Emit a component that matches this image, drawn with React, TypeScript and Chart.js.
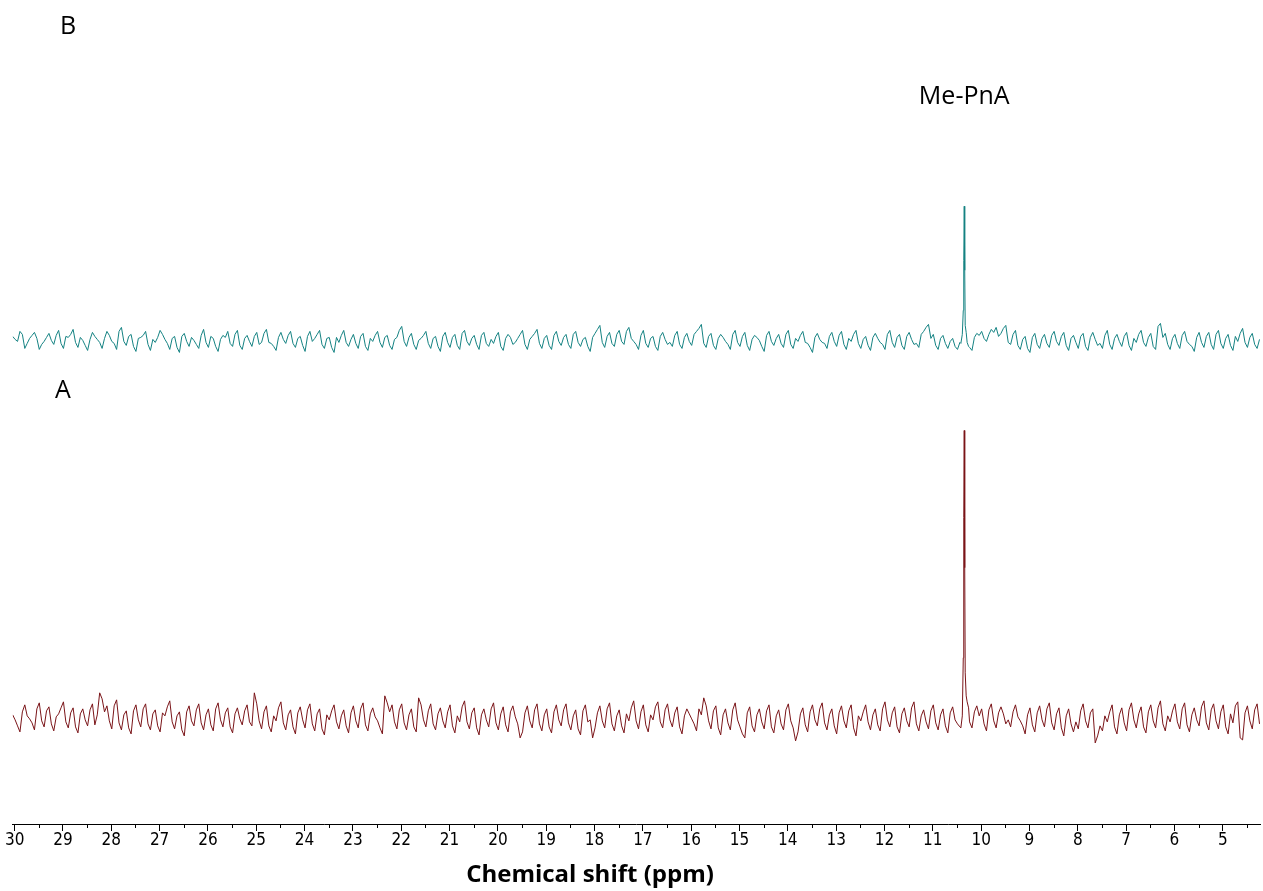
import React, { useEffect, useRef } from "react";
import { Chart, registerables } from "chart.js";

Chart.register(...registerables);

// Sampling grid of the spectrum (ppm), high to low
const xStart = 30.04;
const xStep = 0.1;
const xMidStart = 29.99; // interleaved samples half a step further
const xMin = 4.23;
const xMax = 30.04;

// Trace B (teal) noise intensities on the grid
const tealNoise = [
  4, -1, 6, -3, 5, 2, -4, 3, 0, 5,
  -3, 4, 6, -2, 3, -5, 1, 4, -2, 2,
  5, -3, 9, -1, 4, -6, 2, 5, -4, 1,
  3, 6, -3, 2, -7, 4, -1, 3, -4, 5,
  -2, 4, -6, 1, 3, -3, 6, -5, 2, -1,
  4, -4, 7, -2, -6, 3, 1, 5, -3, 2,
  -5, 4, -1, 6, -4, 2, -7, 3, 5, -2,
  1, -3, 4, -6, 2, 5, -2, 3, -5, 1,
  10, -1, 3, -4, 0, 5, -3, 2, -6, 4,
  -2, 3, -5, 7, -1, 2, -4, 5, -3, 1,
  4, -6, 2, 3, -2, 6, -4, 1, 7, -3,
  2, -5, 5, -1, 3, -4, 6, -2, 1, -6,
  3, 11, -2, 4, -3, 6, -1, 9, 2, -4,
  5, -3, 2, -6, 4, 1, -2, 5, -4, 3,
  -1, 6, 12, -3, 4, -5, 2, 3, -4, 6,
  -2, 4, -5, 1, 3, -6, 5, -1, 2, -3,
  6, -4, 2, 5, -2, -7, 3, 1, -3, 4,
  -1, 5, -4, 2, 6, -3, 1, -5, 3, 2,
  -4, 6, -2, 3, -5, 4, 1, -3, 6, 13,
  2, -5, 2, -3, -1, -6, -2, 0, -7, 3,
  5, 2, 6, 8, 4, 12, -2, 6, -5, 1,
  -8, 3, -4, 2, -3, 5, -1, 4, -5, 2,
  -2, 4, -6, 3, 1, -3, 5, -4, 2, -1,
  4, -5, 2, 6, -2, 3, -6, 14, 3, -4,
  2, -3, 5, -1, -6, 3, -2, 4, -4, 6,
  -3, 2, -5, 4, 7, -2, 3, -4, 1,
];

// Trace B (teal) noise at the interleaved half-step samples
const tealNoiseMid = [
  1, 9, -8, 2, 8, -9, -1, 7, -4, 10,
  -8, 3, 11, -7, 0, -10, 8, 1, -8, 9,
  -1, -9, 13, -5, 6, -11, 3, 9, -10, -2,
  10, 1, -9, 4, -12, 7, -6, 0, -8, 11,
  -7, 2, -11, 5, 9, -6, 10, -9, 5, -6,
  8, -2, 11, -3, -10, 8, -3, 9, -7, 4,
  -11, 9, 2, 10, -8, 3, -12, -2, 10, -6,
  6, -8, 7, -10, -1, 9, -7, 5, -9, 3,
  14, -6, 7, -9, 2, 9, -8, 4, -11, 8,
  -7, 6, -9, 10, -5, 5, -9, 8, -6, -3,
  8, -10, 6, -4, 2, 10, -9, 4, 11, -8,
  5, -9, 9, -5, 6, -8, 9, -6, 3, -11,
  7, 15, -7, 8, -6, 10, -4, 13, -1, -9,
  10, -7, 4, -10, 8, -4, -6, 9, -8, 7,
  -5, 9, 16, -7, 7, -9, 6, -1, -9, 10,
  -6, 8, -10, 5, 0, -11, 9, -5, 6, -7,
  10, -8, -1, 9, -3, -12, 7, -2, -8, 8,
  -6, 9, -9, -1, 10, -8, 4, -10, 7, -2,
  -9, 10, -7, 6, -9, 8, -4, -7, 9, 16,
  6, -9, 5, -8, 2, -9, 0, 0, -10, 7,
  9, -1, 11, 13, 7, 15, -4, 10, -9, 4,
  -12, 7, -8, 6, -7, 9, -5, 8, -10, 5,
  -8, 7, -10, 8, -5, -8, 10, -9, 6, -6,
  8, -10, -2, 10, -6, 7, -9, 17, 7, -9,
  6, -8, 9, -4, -11, 8, -7, 8, -9, 10,
  -8, 6, -10, -1, 12, -7, 7, -8,
];

// Trace A (dark red) noise intensities on the grid
const redNoise = [
  3, -8, 6, 2, -5, 9, -3, 7, -6, 1,
  10, -4, 5, -9, 4, -2, 8, -7, 25, 6,
  -3, 12, -5, 3, -10, 7, -2, 9, -6, 4,
  -8, 5, 11, -4, 2, -12, 6, -3, 8, -5,
  3, -7, 9, -2, 5, -9, 4, -1, 7, -4,
  25, -3, 6, -8, 2, 10, -5, 3, -9, 5,
  -2, 8, -6, 4, -11, 3, 7, -4, 2, -8,
  5, -3, 9, -7, 4, 1, -10, 22, 6, -4,
  8, -5, 3, -9, 20, -2, 7, -6, 4, -3,
  6, -8, 2, 11, -4, 5, -10, 3, -2, 9,
  -5, 4, -7, 6, 1, -20, 5, -3, 8, -6,
  3, -9, 6, -2, 8, -5, 2, -11, 7, -4,
  -20, 5, -3, 9, -6, 2, -8, 4, 10, -3,
  6, -7, 3, 11, -4, 8, -2, 5, -9, 2,
  4, -6, 9, 20, -3, 7, -10, 3, -5, 8,
  -2, -16, 5, -8, 3, -4, 7, -9, 2, -6,
  8, -3, -23, 4, -7, 6, -2, 9, -5, 3,
  -8, 5, -3, 7, -10, 2, 6, -4, 3, -7,
  9, -2, 5, -9, 4, -3, 10, -6, 2, -4,
  7, -5, 3, -8, 5, -2, -9, 0, -4, 6,
  2, -6, 8, -3, 5, 4, -2, 6, 1, -8,
  3, -7, 5, -2, 9, -5, 4, -10, 2, -6,
  -4, 7, -3, 5, -25, -8, 2, 6, -9, 3,
  -5, 8, -2, 4, -9, 6, -3, 10, -6, 2,
  7, -4, 9, -7, 3, -2, 11, -5, 8, -3,
  6, -9, 4, 12, -20, 5, -3, 8, -6,
];

// Trace A (dark red) noise at the interleaved half-step samples
const redNoiseMid = [
  -2, -14, 13, -1, -12, 15, -9, 11, -13, 4,
  16, -10, 10, -15, 9, -8, 14, 3, 19, 12,
  -11, 18, -12, 7, -16, 13, -9, 14, -12, 8,
  -14, 2, 17, -11, 6, -18, 12, -8, 14, -12,
  9, -13, 15, -9, 10, -15, 10, -7, 13, -8,
  14, -11, 12, -14, -3, 16, -12, 8, -16, 11,
  -10, 14, -13, 9, -17, -2, 13, -11, 8, -15,
  12, -10, 15, -13, 10, -3, -16, 15, 13, -11,
  14, -12, 9, -14, 13, -9, 14, -12, 10, -10,
  13, -15, -4, 17, -11, 10, -17, 9, -9, 15,
  -12, 11, -14, 12, -6, -14, 12, -10, 14, -13,
  9, -15, 13, -8, 14, -12, 8, -17, 13, -2,
  -10, 12, -10, 15, -13, 8, -15, -3, 17, -11,
  13, -14, -2, 16, -10, 14, -9, 11, -16, 9,
  -1, -13, 3, 12, -11, 12, -17, 9, -12, 15,
  -9, -20, 11, -14, 9, -11, 13, -15, 8, -12,
  14, -10, -14, 10, -14, 13, -8, 15, -12, 9,
  -16, 12, -10, 13, -18, -3, 13, -12, 9, -13,
  16, -9, 11, -15, 10, -9, 16, -13, 8, -11,
  13, -12, 9, -15, 11, -6, 0, 0, -10, 12,
  9, -13, 14, -10, 11, -6, -9, 13, -3, -16,
  10, -14, 12, -9, 15, -12, 10, -18, 9, -14,
  -11, 14, -10, 9, -18, -13, -4, 13, -16, 10,
  -13, 15, -10, 11, -15, 13, -10, 17, -13, -4,
  14, -11, 15, -14, 10, -8, 17, -12, 14, -11,
  13, -16, -5, 16, -22, 12, -11, 14,
];

// Me-PnA resonance, sampled finely
const peakPpm = [10.42, 10.39, 10.37, 10.36, 10.35, 10.34, 10.33, 10.31, 10.29, 10.26];
const tealPeak = [-3, 6, 30, 80, 134, 70, 15, 8, -2, -6];
const redPeak = [-10, 2, 60, 200, 287, 150, 45, 22, 16, 10];

const tickValues = [5, 6, 7, 8, 9, 10, 11, 12, 13, 14, 15, 16, 17, 18, 19, 20, 21, 22, 23, 24, 25, 26, 27, 28, 29, 30];

const TEAL = "#148282";
const RED = "#7a1418";

function buildSeries(noise: number[], noiseMid: number[], peak: number[], offset: number) {
  const hi = peakPpm[0];
  const lo = peakPpm[peakPpm.length - 1];
  const pts: { x: number; y: number }[] = [];
  const add = (x: number, v: number) => {
    if (x < hi && x > lo) return;
    pts.push({ x, y: v + offset });
  };
  noise.forEach((v, i) => add(+(xStart - i * xStep).toFixed(2), v));
  noiseMid.forEach((v, i) => add(+(xMidStart - i * xStep).toFixed(2), v));
  peakPpm.forEach((x, j) => pts.push({ x, y: peak[j] + offset }));
  pts.sort((a, b) => b.x - a.x);
  return pts;
}

const decorations = {
  id: "decorations",
  afterDraw(chart: any) {
    const { ctx, chartArea } = chart;
    const xs = chart.scales.x;
    ctx.save();
    // minor ticks
    ctx.strokeStyle = "#000";
    ctx.lineWidth = 1;
    for (let k = 4; k < 30; k++) {
      const px = Math.round(xs.getPixelForValue(k + 0.5)) + 0.5;
      ctx.beginPath();
      ctx.moveTo(px, chartArea.bottom);
      ctx.lineTo(px, chartArea.bottom + 4);
      ctx.stroke();
    }
    ctx.fillStyle = "#000";
    ctx.textAlign = "center";
    ctx.textBaseline = "alphabetic";
    ctx.font = "25px 'Open Sans'";
    ctx.fillText("B", 68, 34);
    ctx.fillText("A", 63, 398);
    ctx.fillText("Me-PnA", xs.getPixelForValue(10.35), 104);
    ctx.font = "bold 24px 'Open Sans'";
    ctx.fillText("Chemical shift (ppm)", 590, 882);
    ctx.restore();
  },
};

export default function App() {
  const ref = useRef<HTMLCanvasElement | null>(null);
  useEffect(() => {
    if (!ref.current) return;
    const chart = new Chart(ref.current, {
      type: "line",
      data: {
        datasets: [
          {
            label: "B",
            data: buildSeries(tealNoise, tealNoiseMid, tealPeak, 483),
            borderColor: TEAL,
            borderWidth: 1,
            pointRadius: 0,
            tension: 0,
            fill: false,
          },
          {
            label: "A",
            data: buildSeries(redNoise, redNoiseMid, redPeak, 106),
            borderColor: RED,
            borderWidth: 1,
            pointRadius: 0,
            tension: 0,
            fill: false,
          },
        ],
      },
      options: {
        animation: false,
        responsive: false,
        layout: { padding: { left: 12.7, right: 3, top: 0, bottom: 41.6 } },
        plugins: { legend: { display: false }, tooltip: { enabled: false } },
        scales: {
          x: {
            type: "linear",
            reverse: true,
            min: xMin,
            max: xMax,
            afterBuildTicks: (scale: any) => {
              scale.ticks = tickValues.map((v) => ({ value: v }));
            },
            ticks: {
              autoSkip: false,
              maxRotation: 0,
              padding: -1,
              color: "#000",
              font: { family: "'Liberation Sans Narrow', 'DejaVu Sans Condensed', sans-serif", size: 17 },
              callback: (v: any) => String(v),
            },
            grid: { drawOnChartArea: false, drawTicks: true, tickLength: 7, color: "#000", lineWidth: 1 },
            border: { display: true, color: "#000", width: 1 },
          },
          y: { display: false, min: 0, max: 823 },
        },
      },
      plugins: [decorations],
    });
    return () => chart.destroy();
  }, []);
  return (
    <div style={{ position: "absolute", left: 0, top: 0, width: 1263, height: 891 }}>
      <canvas ref={ref} width={1263} height={891} style={{ display: "block" }} />
    </div>
  );
}
